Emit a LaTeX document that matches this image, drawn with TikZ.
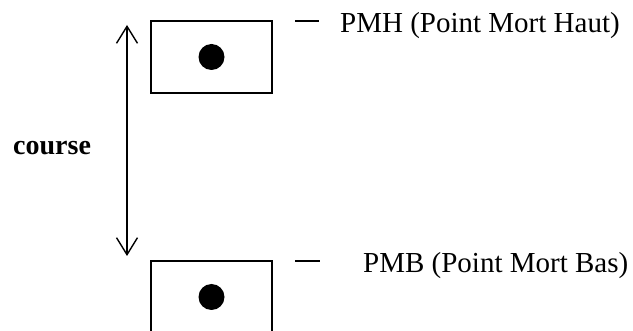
\documentclass[tikz,border=0pt]{standalone}
\usepackage{fontspec}
\setmainfont{Liberation Serif}
\usetikzlibrary{arrows.meta}
\begin{document}
\begin{tikzpicture}[x=1pt,y=-1pt,
  piston/.style={draw, line width=1.4pt, minimum width=121pt, minimum height=72pt, inner sep=0pt},
  pin/.style={circle, fill=black, minimum size=26pt, inner sep=0pt},
  label/.style={anchor=base west, inner sep=0pt, font=\fontsize{29}{34}\selectfont},
  leader/.style={line width=1.2pt},
  stroke/.style={line width=1.4pt, {Straight Barb[length=17pt,width=21pt,line width=1.4pt]}-{Straight Barb[length=17pt,width=21pt,line width=1.4pt]}}
]
\useasboundingbox (0,0) rectangle (633,331);

% piston at top dead centre
\node[piston] (top) at (211.5,57) {};
\node[pin] (toppin) at (211.5,57) {};
% piston at bottom dead centre
\node[piston] (bot) at (211.5,297) {};
\node[pin] (botpin) at (211.5,297) {};

% stroke arrow
\coordinate (s1) at (127,25);
\coordinate (s2) at (127,256);
\draw[stroke] (s1) -- (s2);
\node[anchor=base west, inner sep=0pt, font=\bfseries\fontsize{28}{34}\selectfont] (course) at (13,155) {course};

% leaders and captions
\coordinate (l1a) at (295,21);
\coordinate (l1b) at (319,21);
\draw[leader] (l1a) -- (l1b);
\node[label] (pmh) at (340,33) {PMH (Point Mort Haut)};

\coordinate (l2a) at (295,261);
\coordinate (l2b) at (320,261);
\draw[leader] (l2a) -- (l2b);
\node[label] (pmb) at (363,273) {PMB (Point Mort Bas)};
\end{tikzpicture}
\end{document}
